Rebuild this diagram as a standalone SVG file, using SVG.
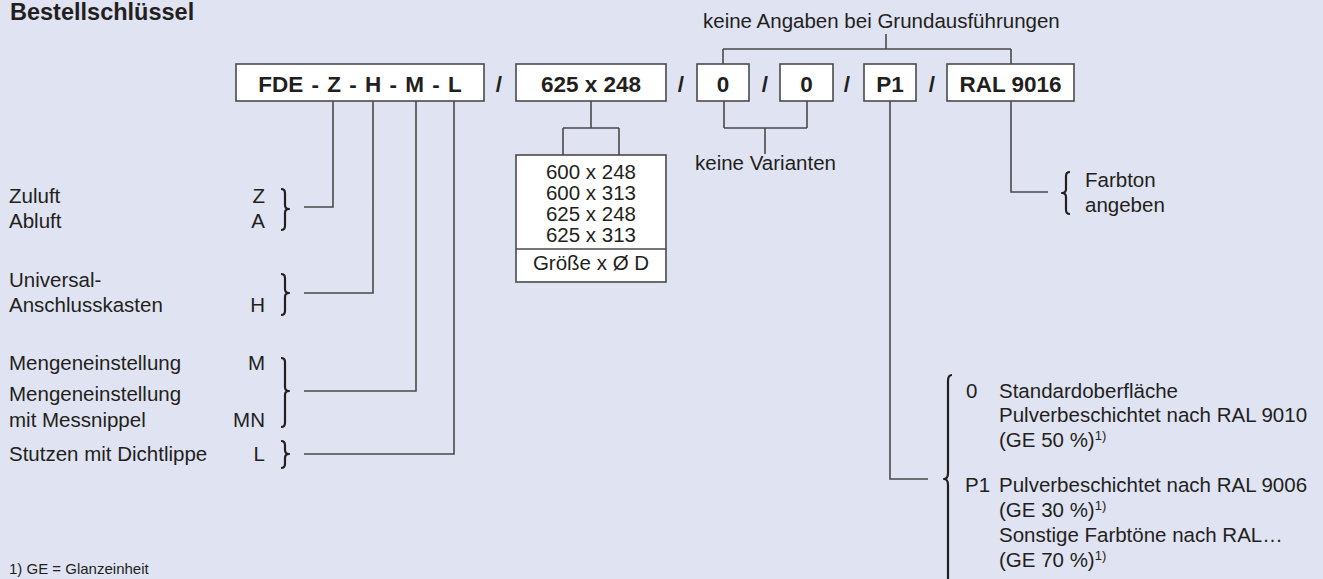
<svg xmlns="http://www.w3.org/2000/svg" width="1323" height="579" viewBox="0 0 1323 579">
<style>
.t{font-family:"Liberation Sans",Arial,sans-serif;font-size:20.5px;fill:#231f20}
.b{font-family:"Liberation Sans",Arial,sans-serif;font-size:22.5px;font-weight:bold;fill:#231f20}
.m{text-anchor:middle}
.e{text-anchor:end}
.sup{font-size:13px}
.box{fill:#fff;stroke:#4a4a4a;stroke-width:1.6}
.ln{fill:none;stroke:#4a4a4a;stroke-width:1.6}
.br{fill:none;stroke:#231f20;stroke-width:2.2;stroke-linejoin:round}
</style>
<rect width="1323" height="579" fill="#e0e3f1"/>
<text x="10" y="20" font-family="Liberation Sans,Arial,sans-serif" font-size="23.5" font-weight="bold" fill="#231f20">Bestellschlüssel</text>

<g id="connectors">
<path class="ln" d="M886,34V49M723,49H1011M723,49V64M1011,49V64"/>
<path class="ln" d="M333,101V207H304M373,101V293H304M416,101V391H304M454,101V454H304"/>
<path class="ln" d="M591,101V128M563,128H619M563,128V155M619,128V155"/>
<path class="ln" d="M724,101V128M807,101V128M724,128H807M765,128V154"/>
<path class="ln" d="M890,101V479H928"/>
<path class="ln" d="M1011,101V192H1048"/>
</g>

<g id="node-fde"><rect class="box" x="236" y="64" width="248" height="37"/><text class="b m" x="360" y="92" word-spacing="2">FDE - Z - H - M - L</text></g>
<text class="b m" x="499" y="92">/</text>
<g id="node-size"><rect class="box" x="516" y="64" width="150" height="37"/><text class="b m" x="591" y="92">625 x 248</text></g>
<text class="b m" x="681" y="92">/</text>
<g id="node-v1"><rect class="box" x="697" y="64" width="52" height="37"/><text class="b m" x="723" y="92">0</text></g>
<text class="b m" x="765" y="92">/</text>
<g id="node-v2"><rect class="box" x="780" y="64" width="53" height="37"/><text class="b m" x="806.5" y="92">0</text></g>
<text class="b m" x="847" y="92">/</text>
<g id="node-p1"><rect class="box" x="864" y="64" width="52" height="37"/><text class="b m" x="890" y="92">P1</text></g>
<text class="b m" x="932" y="92">/</text>
<g id="node-ral"><rect class="box" x="947" y="64" width="127" height="37"/><text class="b m" x="1010.5" y="92">RAL 9016</text></g>

<g id="label-grund"><text class="t" x="703" y="28">keine Angaben bei Grundausführungen</text></g>
<g id="label-varianten"><text class="t" x="695" y="170">keine Varianten</text></g>

<g id="node-sizes">
<rect class="box" x="516" y="155" width="150" height="127"/>
<path class="ln" d="M516,249H666"/>
<text class="t m" x="591" y="179">600 x 248</text>
<text class="t m" x="591" y="200">600 x 313</text>
<text class="t m" x="591" y="221">625 x 248</text>
<text class="t m" x="591" y="242">625 x 313</text>
<text class="t m" x="591" y="270">Größe x Ø D</text>
</g>

<g id="node-luft">
<text class="t" x="9" y="203">Zuluft</text><text class="t e" x="265" y="203">Z</text>
<text class="t" x="9" y="228">Abluft</text><text class="t e" x="265" y="228">A</text>
<path class="br" d="M281,189Q285,189 285,193V205Q285,209 289,209Q285,209 285,213V226Q285,230 281,230"/>
</g>
<g id="node-kasten">
<text class="t" x="9" y="287">Universal-</text>
<text class="t" x="9" y="312">Anschlusskasten</text><text class="t e" x="265" y="312">H</text>
<path class="br" d="M281,274Q285,274 285,278V289Q285,293 289,293Q285,293 285,297V311Q285,315 281,315"/>
</g>
<g id="node-menge">
<text class="t" x="9" y="370">Mengeneinstellung</text><text class="t e" x="265" y="370">M</text>
<text class="t" x="9" y="401">Mengeneinstellung</text>
<text class="t" x="9" y="427">mit Messnippel</text><text class="t e" x="265" y="427">MN</text>
<path class="br" d="M281,358Q285,358 285,362V387Q285,391 289,391Q285,391 285,395V423Q285,427 281,427"/>
</g>
<g id="node-stutzen">
<text class="t" x="9" y="461">Stutzen mit Dichtlippe</text><text class="t e" x="265" y="461">L</text>
<path class="br" d="M281,441Q285,441 285,445V450Q285,454 289,454Q285,454 285,458V464Q285,468 281,468"/>
</g>

<g id="node-farbton">
<path class="br" d="M1070,172Q1066,172 1066,176V189Q1066,193 1062,193Q1066,193 1066,197V210Q1066,214 1070,214"/>
<text class="t" x="1085" y="187">Farbton</text>
<text class="t" x="1085" y="212">angeben</text>
</g>

<g id="node-oberflaeche">
<path class="br" d="M952,375Q948,375 948,381V473Q948,479 944,479Q948,479 948,485V581"/>
<text class="t" x="966" y="398">0</text>
<text class="t" x="999" y="398">Standardoberfläche</text>
<text class="t" x="999" y="422">Pulverbeschichtet nach RAL 9010</text>
<text class="t" x="999" y="447">(GE 50 %)<tspan class="sup" dy="-7">1)</tspan></text>
<text class="t" x="965" y="492">P1</text>
<text class="t" x="999" y="492">Pulverbeschichtet nach RAL 9006</text>
<text class="t" x="999" y="517">(GE 30 %)<tspan class="sup" dy="-7">1)</tspan></text>
<text class="t" x="999" y="542">Sonstige Farbtöne nach RAL…</text>
<text class="t" x="999" y="567">(GE 70 %)<tspan class="sup" dy="-7">1)</tspan></text>
</g>

<text x="9" y="574" font-family="Liberation Sans,Arial,sans-serif" font-size="15" fill="#231f20">1) GE = Glanzeinheit</text>
</svg>
